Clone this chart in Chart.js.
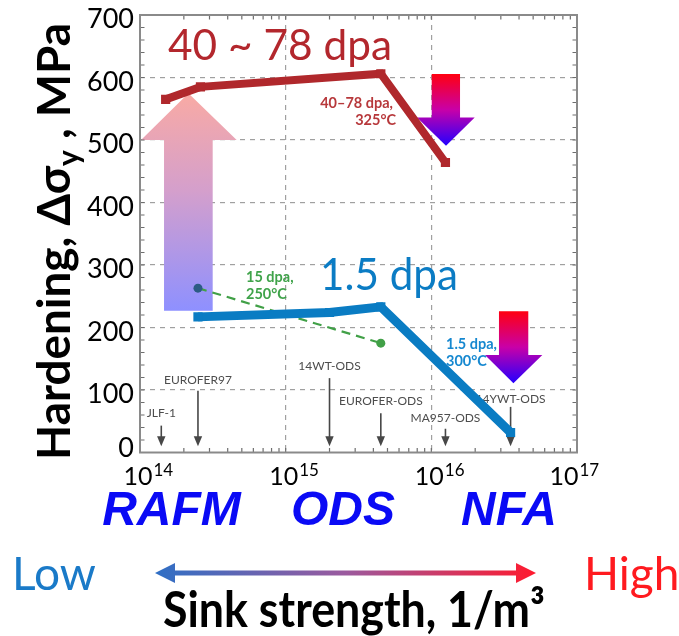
<!DOCTYPE html>
<html>
<head>
<meta charset="utf-8">
<script src="https://cdn.jsdelivr.net/npm/chart.js@4"></script>
<style>
  html, body { margin: 0; padding: 0; background: #fff; }
  #wrap { width: 679px; height: 636px; position: relative; }
</style>
</head>
<body>
<div id="wrap"><canvas id="c" width="679" height="636"></canvas></div>
<script>
// Irradiation hardening vs. sink strength (1/m^3) for three dose levels
const highDoseSink = [1.5e14, 2.6e14, 4.5e15, 1.25e16];
const highDoseHardening = [565, 585, 606, 464];
const lowDoseSink = [2.5e14, 2.0e15, 4.5e15, 3.5e16];
const lowDoseHardening = [217, 224, 233, 32];
const midDoseSink = [2.5e14, 4.5e15];
const midDoseHardening = [263, 175];

// Reference alloys and their sink strengths
const materials = ['JLF-1', 'EUROFER97', '14WT-ODS', 'EUROFER-ODS', 'MA957-ODS', '14YWT-ODS'];
const materialSink = [1.4e14, 2.5e14, 2.0e15, 4.5e15, 1.25e16, 3.5e16];

// Axis ticks
const xTickExponents = [14, 15, 16, 17];
const yTickValues = [0, 100, 200, 300, 400, 500, 600, 700];

// Alloy classes along the sink-strength axis
const classLabels = ['RAFM', 'ODS', 'NFA'];

// ---- layout of the annotations (in axis units) ----
const materialArrowTop = [43, 99, 119, 63, 38, 73];   // MPa, top of each pointer
const materialLabelY = [63, 116, 138, 82, 55, 86];    // MPa, centre of each name
const pointerTip = 10;                                 // MPa

const SANS = 'Lato, "Noto Sans", "DejaVu Sans", sans-serif';

function poly(ctx, pts) {
  ctx.beginPath();
  ctx.moveTo(pts[0][0], pts[0][1]);
  for (let i = 1; i < pts.length; i++) ctx.lineTo(pts[i][0], pts[i][1]);
  ctx.closePath();
}

function textFit(ctx, s, x, y, font, color, width) {
  ctx.save();
  ctx.font = font;
  ctx.fillStyle = color;
  ctx.textAlign = 'left';
  ctx.textBaseline = 'alphabetic';
  const w = ctx.measureText(s).width;
  const sx = width ? width / w : 1;
  ctx.translate(x, y);
  ctx.scale(sx, 1);
  ctx.fillText(s, 0, 0);
  ctx.restore();
}

function text(ctx, s, x, y, font, color, align) {
  ctx.save();
  ctx.font = font;
  ctx.fillStyle = color;
  ctx.textAlign = align || 'left';
  ctx.textBaseline = 'alphabetic';
  ctx.fillText(s, x, y);
  ctx.restore();
}

// Block arrow: shaft [x0,x1] from tail to base, head [h0,h1] at base, tip (tip,tipY)
function blockArrow(ctx, X, Y, a, stops) {
  const pts = [
    [X(a.x0), Y(a.tail)], [X(a.x0), Y(a.base)], [X(a.h0), Y(a.base)],
    [X(a.tip), Y(a.tipY)],
    [X(a.h1), Y(a.base)], [X(a.x1), Y(a.base)], [X(a.x1), Y(a.tail)]
  ];
  const g = ctx.createLinearGradient(0, Y(a.tail), 0, Y(a.tipY));
  stops.forEach(s => g.addColorStop(s[0], s[1]));
  poly(ctx, pts);
  ctx.fillStyle = g;
  ctx.fill();
}

const decor = {
  id: 'decor',
  beforeDatasetsDraw(chart) {
    const ctx = chart.ctx;
    const xs = chart.scales.x, ys = chart.scales.y;
    const X = v => xs.getPixelForValue(v);
    const Y = v => ys.getPixelForValue(v);
    ctx.save();
    // upward arrow (dose increase)
    blockArrow(ctx, X, Y,
      { x0: 1.462e14, x1: 3.155e14, h0: 1.016e14, h1: 4.61e14, tip: 2.15e14, tail: 227, base: 500, tipY: 575 },
      [[0, '#8e90ff'], [0.55, '#d49fcc'], [1, '#f9aaa4']]);
    // downward arrows (hardening reduction with sink strength)
    blockArrow(ctx, X, Y,
      { x0: 1.006e16, x1: 1.574e16, h0: 7.97e15, h1: 1.985e16, tip: 1.261e16, tail: 605.6, base: 536, tipY: 491 },
      [[0, '#ff0010'], [0.5, '#c800a8'], [1, '#2400ff']]);
    blockArrow(ctx, X, Y,
      { x0: 2.913e16, x1: 4.63e16, h0: 2.335e16, h1: 5.78e16, tip: 3.66e16, tail: 226, base: 156, tipY: 110.7 },
      [[0, '#ff0010'], [0.5, '#c800a8'], [1, '#2400ff']]);

    // pointers to the reference alloys
    ctx.strokeStyle = '#474747';
    ctx.fillStyle = '#474747';
    ctx.lineWidth = 1.6;
    materials.forEach((m, i) => {
      const px = X(materialSink[i]);
      const top = Y(materialArrowTop[i]);
      const tip = Y(pointerTip);
      ctx.beginPath();
      ctx.moveTo(px, top);
      ctx.lineTo(px, tip - 8);
      ctx.stroke();
      poly(ctx, [[px - 4.2, tip - 10], [px + 4.2, tip - 10], [px, tip]]);
      ctx.fill();
      ctx.font = '12px ' + SANS;
      ctx.textAlign = 'center';
      ctx.textBaseline = 'middle';
      ctx.fillStyle = '#4d4d4d';
      ctx.fillText(m, px, Y(materialLabelY[i]));
      ctx.fillStyle = '#474747';
    });
    ctx.restore();
  },
  afterDraw(chart) {
    const ctx = chart.ctx;
    const xs = chart.scales.x, ys = chart.scales.y;
    const X = v => xs.getPixelForValue(v);
    const Y = v => ys.getPixelForValue(v);
    const a = chart.chartArea;
    ctx.save();

    // inner minor ticks
    ctx.strokeStyle = '#6e6e6e';
    ctx.lineWidth = 1.2;
    ctx.beginPath();
    for (let v = 0; v <= 700; v += 20) {
      const py = Y(v);
      ctx.moveTo(a.left, py); ctx.lineTo(a.left + 4.5, py);
      ctx.moveTo(a.right, py); ctx.lineTo(a.right - 4.5, py);
    }
    for (let e = 14; e < 17; e++) {
      for (let m = 1; m <= 9; m++) {
        const px = X(m * Math.pow(10, e));
        ctx.moveTo(px, a.bottom); ctx.lineTo(px, a.bottom - 4.5);
        ctx.moveTo(px, a.top); ctx.lineTo(px, a.top + 4.5);
      }
    }
    ctx.stroke();

    // frame
    ctx.strokeStyle = '#8a8a8a';
    ctx.lineWidth = 2;
    ctx.strokeRect(a.left, a.top, a.right - a.left, a.bottom - a.top);

    // y tick labels
    ctx.font = '27px ' + SANS;
    ctx.fillStyle = '#000';
    ctx.textAlign = 'right';
    ctx.textBaseline = 'alphabetic';
    yTickValues.forEach(v => {
      const drop = v === 0 ? 4.5 : 13;
      ctx.fillText(String(v), a.left - 6, Y(v) + drop);
    });

    // x tick labels 10^n
    xTickExponents.forEach(e => {
      const px = X(Math.pow(10, e));
      const left = px - (e === 17 ? 27.5 : 16.5);
      ctx.textAlign = 'left';
      ctx.font = '25px ' + SANS;
      ctx.fillText('10', left, 485);
      const w = ctx.measureText('10').width;
      ctx.font = '17px ' + SANS;
      ctx.fillText(String(e), left + w + 1, 476);
    });

    // y axis title, rotated
    ctx.save();
    ctx.translate(70, 460);
    ctx.rotate(-Math.PI / 2);
    const big = 'bold 46px ' + SANS, small = 'bold 30px ' + SANS;
    const pieces = [
      { t: 'Hardening, \u0394\u03c3', f: big, dy: 0 },
      { t: 'y', f: small, dy: 9 },
      { t: ' , MPa', f: big, dy: 0 }
    ];
    let total = 0;
    pieces.forEach(p => { ctx.font = p.f; p.w = ctx.measureText(p.t).width; total += p.w; });
    ctx.scale(437 / total, 1);
    let cx = 0;
    ctx.fillStyle = '#000';
    ctx.textAlign = 'left';
    pieces.forEach(p => { ctx.font = p.f; ctx.fillText(p.t, cx, p.dy); cx += p.w; });
    ctx.restore();

    // dose labels
    textFit(ctx, '40 ~ 78 dpa', 168, 60, '42px ' + SANS, '#b3272d', 224);
    textFit(ctx, '1.5 dpa', 320, 290, '44px ' + SANS, '#0b7cc4', 138);

    const sm = 'bold 14.5px ' + SANS;
    text(ctx, '40\u201378 dpa,', 393, 108, sm, '#b7383b', 'right');
    text(ctx, '325\u00b0C', 396, 125, sm, '#b7383b', 'right');
    text(ctx, '15 dpa,', 246, 282, sm, '#3fa34a', 'left');
    text(ctx, '250\u00b0C', 246, 299, sm, '#3fa34a', 'left');
    text(ctx, '1.5 dpa,', 446, 348.5, sm, '#1688d0', 'left');
    text(ctx, '300\u00b0C', 446, 365.5, sm, '#1688d0', 'left');

    // alloy classes
    const cls = 'italic bold 48px "Liberation Sans", Arial, sans-serif';
    const clsX = [171.5, 343, 509];
    classLabels.forEach((c, i) => text(ctx, c, clsX[i], 525, cls, '#0a0af5', 'center'));

    // Low / High and the double arrow
    text(ctx, 'Low', 12, 590, '46px ' + SANS, '#1a7ac8', 'left');
    text(ctx, 'High', 584, 590, '46px ' + SANS, '#ff1a1f', 'left');
    const ay = 573;
    const g = ctx.createLinearGradient(155, 0, 536, 0);
    g.addColorStop(0, '#2f6fc5');
    g.addColorStop(0.5, '#9b5a9e');
    g.addColorStop(1, '#ff1a2e');
    ctx.fillStyle = g;
    poly(ctx, [
      [155, ay], [175, ay - 10], [175, ay - 2.5], [516, ay - 2.5], [516, ay - 10],
      [536, ay], [516, ay + 10], [516, ay + 2.5], [175, ay + 2.5], [175, ay + 10]
    ]);
    ctx.fill();

    textFit(ctx, 'Sink strength, 1/m\u00b3', 163, 627, 'bold 49px ' + SANS, '#000', 382);

    ctx.restore();
  }
};

const pts = (xs, ys) => xs.map((x, i) => ({ x: x, y: ys[i] }));

new Chart(document.getElementById('c'), {
  type: 'line',
  data: {
    datasets: [
      {
        data: pts(highDoseSink, highDoseHardening),
        borderColor: '#b0282c',
        backgroundColor: '#b0282c',
        borderWidth: 8,
        borderJoinStyle: 'miter',
        pointStyle: 'rect',
        pointRadius: 6.5,
        pointBorderWidth: 0,
        fill: false,
        tension: 0
      },
      {
        data: pts(lowDoseSink, lowDoseHardening),
        borderColor: '#0a7cc3',
        backgroundColor: '#0a7cc3',
        borderWidth: 9,
        borderJoinStyle: 'miter',
        pointStyle: 'rect',
        pointRadius: 6.5,
        pointBorderWidth: 0,
        fill: false,
        tension: 0
      },
      {
        data: pts(midDoseSink, midDoseHardening),
        borderColor: '#41a047',
        backgroundColor: ['#2c5b84', '#41a047'],
        borderWidth: 2.2,
        borderDash: [9, 6],
        pointRadius: 4.5,
        pointBorderWidth: 0,
        fill: false,
        tension: 0
      }
    ]
  },
  options: {
    responsive: false,
    animation: false,
    devicePixelRatio: 1,
    events: [],
    layout: { padding: { top: 15, right: 102, bottom: 183.5, left: 0 } },
    plugins: { legend: { display: false }, tooltip: { enabled: false } },
    scales: {
      x: {
        type: 'logarithmic',
        min: 1e14,
        max: 1e17,
        afterFit: s => { s.height = 0; },
        ticks: { display: false },
        border: { display: false, dash: [5, 5] },
        grid: {
          drawTicks: false,
          lineWidth: 1.2,
          color: c => {
            const v = c.tick ? c.tick.value : 0;
            const l = Math.log10(v);
            return (Math.abs(l - Math.round(l)) < 1e-6 && l > 14.5 && l < 16.5) ? '#a0a0a0' : 'rgba(0,0,0,0)';
          }
        }
      },
      y: {
        min: 0,
        max: 700,
        afterFit: s => { s.width = 140; },
        ticks: { display: false, stepSize: 100 },
        border: { display: false, dash: [5, 5] },
        grid: {
          drawTicks: false,
          lineWidth: 1.2,
          color: c => {
            const v = c.tick ? c.tick.value : 0;
            return (v > 0 && v < 700) ? '#a0a0a0' : 'rgba(0,0,0,0)';
          }
        }
      }
    }
  },
  plugins: [decor]
});
</script>
</body>
</html>
